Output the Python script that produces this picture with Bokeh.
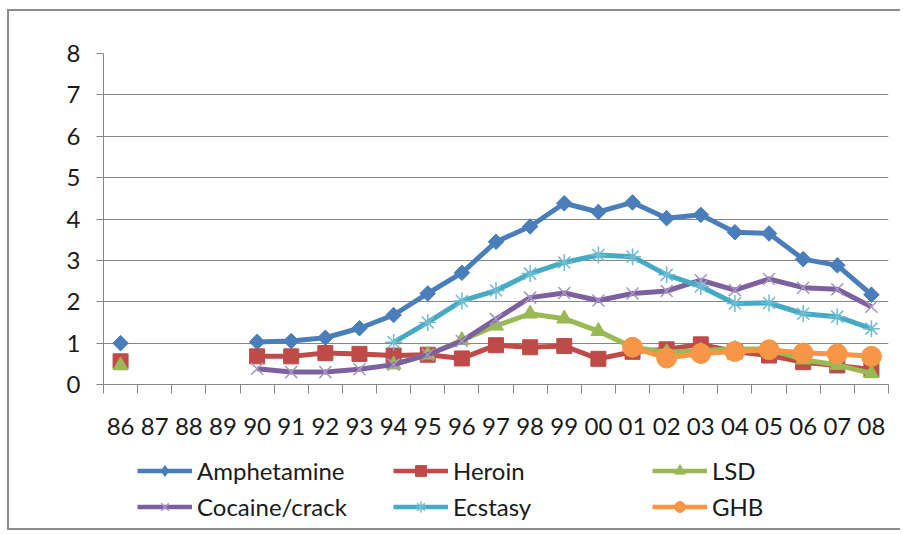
import math
from bokeh.plotting import figure
from bokeh.models import FixedTicker, Legend, LegendItem, Range1d
from bokeh.layouts import column
from bokeh.embed import file_html
from bokeh.resources import INLINE

nan = float("nan")

years = ["86", "87", "88", "89", "90", "91", "92", "93", "94", "95", "96", "97",
         "98", "99", "00", "01", "02", "03", "04", "05", "06", "07", "08"]

amphetamine = [1.0, nan, nan, nan, 1.03, 1.05, 1.13, 1.36, 1.68, 2.2, 2.7, 3.45,
               3.82, 4.38, 4.17, 4.4, 4.02, 4.1, 3.68, 3.65, 3.03, 2.88, 2.17]
heroin = [0.56, nan, nan, nan, 0.68, 0.68, 0.76, 0.74, 0.7, 0.72, 0.63, 0.95,
          0.9, 0.93, 0.62, 0.79, 0.85, 0.97, 0.8, 0.7, 0.54, 0.46, 0.36]
lsd = [0.46, nan, nan, nan, nan, nan, nan, nan, 0.48, 0.72, 1.07, 1.42,
       1.71, 1.59, 1.29, 0.9, 0.78, 0.82, 0.86, 0.86, 0.6, 0.47, 0.27]
cocaine = [nan, nan, nan, nan, 0.38, 0.3, 0.3, 0.37, 0.48, 0.72, 1.05, 1.58,
           2.1, 2.21, 2.03, 2.2, 2.26, 2.52, 2.28, 2.55, 2.34, 2.3, 1.88]
ecstasy = [nan, nan, nan, nan, nan, nan, nan, nan, 1.02, 1.5, 2.02, 2.27,
           2.68, 2.95, 3.13, 3.09, 2.65, 2.37, 1.96, 1.97, 1.71, 1.64, 1.35]
ghb = [nan, nan, nan, nan, nan, nan, nan, nan, nan, nan, nan, nan,
       nan, nan, nan, 0.9, 0.64, 0.75, 0.8, 0.84, 0.76, 0.74, 0.68]

y_ticks = [0, 1, 2, 3, 4, 5, 6, 7, 8]

x = list(range(len(years)))
boundaries = [i - 0.5 for i in range(len(years) + 1)]

FONT = "Lato"
GRAY = "#868686"
TEXT = "#1a1a1a"

p = figure(width=891, height=435, output_backend="svg", toolbar_location=None,
           x_range=Range1d(-0.5, len(years) - 0.5), y_range=Range1d(0, 8),
           min_border_left=94, min_border_right=12, min_border_top=42,
           min_border_bottom=62)
p.outline_line_color = None
p.xgrid.visible = False
p.ygrid.ticker = FixedTicker(ticks=y_ticks)
p.ygrid.grid_line_color = GRAY
p.ygrid.grid_line_width = 1

xa = p.xaxis[0]
xa.ticker = FixedTicker(ticks=x, minor_ticks=boundaries)
xa.major_label_overrides = {i: years[i] for i in x}
xa.major_tick_out = 0
xa.major_tick_in = 0
xa.minor_tick_out = 9
xa.minor_tick_in = 0
xa.minor_tick_line_color = GRAY
xa.axis_line_color = GRAY
xa.major_label_standoff = 24
xa.major_label_text_font = FONT
xa.major_label_text_font_size = "24px"
xa.major_label_text_color = TEXT

ya = p.yaxis[0]
ya.ticker = FixedTicker(ticks=y_ticks)
ya.major_tick_out = 7
ya.major_tick_in = 0
ya.minor_tick_line_color = None
ya.major_tick_line_color = GRAY
ya.axis_line_color = GRAY
ya.major_label_standoff = 16
ya.major_label_text_font = FONT
ya.major_label_text_font_size = "24px"
ya.major_label_text_color = TEXT

# name, values, line colour, marker, size, marker colour, marker line width,
# angle, legend marker, legend marker size
series = [
    ("Amphetamine", amphetamine, "#4a7ebb", "square", 11, "#4a7ebb", 1, math.pi / 4, "diamond", 12),
    ("Heroin", heroin, "#be4b48", "square", 15, "#be4b48", 1, 0, "square", 11),
    ("LSD", lsd, "#98b954", "triangle", 15, "#98b954", 1, 0, "triangle", 11),
    ("Cocaine/crack", cocaine, "#7d60a0", "x", 17, "#a596c2", 1.5, 0, "x", 12),
    ("Ecstasy", ecstasy, "#46aac5", "asterisk", 17, "#6fbcd2", 1.5, 0, "asterisk", 12),
    ("GHB", ghb, "#f79646", "circle", 20, "#f79646", 1, 0, "circle", 13),
]

# legend strip below the chart (its proxy renderers sit outside its view)
lg = figure(width=891, height=82, output_backend="svg", toolbar_location=None,
            x_range=Range1d(-0.5, len(years) - 0.5), y_range=Range1d(-2, -1),
            x_axis_location=None, y_axis_location=None,
            min_border_left=0, min_border_right=0, min_border_top=0,
            min_border_bottom=0)
lg.outline_line_color = None
lg.grid.visible = False

items = {}
for name, vals, color, marker, size, mcolor, mlw, ang, lmarker, lsize in series:
    p.line(x, vals, line_color=color, line_width=5, line_join="round")
    p.scatter(x, vals, marker=marker, size=size, fill_color=mcolor,
              line_color=mcolor, line_width=mlw, angle=ang)
    kl = lg.line(x, vals, line_color=color, line_width=4.5, line_join="round")
    ks = lg.scatter(x, vals, marker=lmarker, size=lsize, fill_color=mcolor,
                    line_color=mcolor, line_width=mlw)
    items[name] = LegendItem(label=name, renderers=[kl, ks])

cols = [["Amphetamine", "Cocaine/crack"], ["Heroin", "Ecstasy"], ["LSD", "GHB"]]
offsets = [34, 290, 549]
for names, off in zip(cols, offsets):
    leg = Legend(items=[items[n] for n in names], location=(off, 4),
                 orientation="vertical", padding=0, margin=0, spacing=0,
                 glyph_width=55, glyph_height=27, label_height=36,
                 label_standoff=5, border_line_color=None,
                 background_fill_alpha=0, label_text_font=FONT,
                 label_text_font_size="24px", label_text_color=TEXT)
    lg.add_layout(leg)

layout = column(p, lg, spacing=0,
                styles={"border-top": "2px solid #8c8c8c",
                        "border-left": "2px solid #8c8c8c",
                        "border-bottom": "2px solid #8c8c8c",
                        "margin-left": "7px", "margin-top": "9px"})

open("out.html", "w").write(file_html(layout, INLINE))
